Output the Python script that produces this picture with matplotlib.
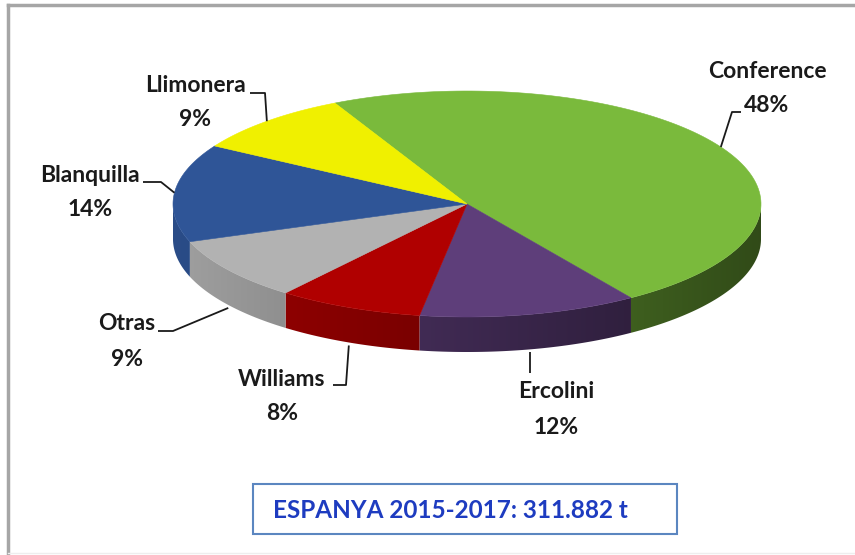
import numpy as np
import matplotlib
matplotlib.use("Agg")
import matplotlib.pyplot as plt
from matplotlib.patches import Polygon, Rectangle
from matplotlib.colors import to_rgb

# pear varieties, share of production (%)
varieties = ["Conference", "Ercolini", "Williams", "Otras", "Blanquilla", "Llimonera"]
shares = [48, 12, 8, 9, 14, 9]
colors = ["#7ABA3C", "#5E3E7A", "#B00000", "#B2B2B2", "#2F5597", "#F0F000"]
total_label = "ESPANYA 2015-2017: 311.882 t"

FONT = "Lato"

# pie geometry in pixel space
CX, CY = 467, 204
RA, RB = 294, 113
DEPTH = 35
START = 116.7

fig = plt.figure(figsize=(8.55, 5.55), dpi=100)
ax = fig.add_axes([0, 0, 1, 1])
ax.set_xlim(0, 855)
ax.set_ylim(555, 0)
ax.axis("off")


def pt(deg, drop=0.0):
    t = np.radians(deg)
    return CX + RA * np.cos(t), CY - RB * np.sin(t) + drop


def shade(c, deg):
    f = 0.9 - 0.5 * (np.cos(np.radians(deg)) + 1) / 2
    r, g, b = to_rgb(c)
    return (r * f, g * f, b * f)


frac = np.array(shares, dtype=float) / sum(shares)
ends = START - np.cumsum(frac) * 360
starts = np.concatenate([[START], ends[:-1]])

# side wall: only the front half (angles -180..0) is visible,
# filled with a horizontal gradient clipped to the wall outline
for c, a0, a1 in zip(colors, starts, ends):
    for shift in (0, 360, -360):
        l, h = max(a1 + shift, -180), min(a0 + shift, 0)
        if h <= l:
            continue
        arc = np.linspace(l, h, 200)
        top = [pt(a) for a in arc]
        bot = [pt(a, DEPTH) for a in arc[::-1]]
        wall = Polygon(top + bot, closed=True, facecolor="none",
                       edgecolor="none", zorder=2)
        ax.add_patch(wall)
        xs = np.array([p[0] for p in top])
        x0, x1 = xs.min() - 1, xs.max() + 1
        cols = np.linspace(x0, x1, 300)
        angs = -np.degrees(np.arccos(np.clip((cols - CX) / RA, -1, 1)))
        grad = np.array([shade(c, a) for a in angs])[None, :, :]
        ys = [p[1] for p in top + bot]
        im = ax.imshow(grad, extent=(x0, x1, max(ys) + 1, min(ys) - 1),
                       aspect="auto", zorder=2, interpolation="bilinear")
        im.set_clip_path(wall)

# top faces
for c, a0, a1 in zip(colors, starts, ends):
    arc = np.linspace(a0, a1, 120)
    xy = [(CX, CY)] + [pt(a) for a in arc]
    ax.add_patch(Polygon(xy, closed=True, facecolor=c, edgecolor=c,
                         lw=0.4, zorder=3))

ax.set_xlim(0, 855)
ax.set_ylim(555, 0)

# label text positions and leader elbows
label_pos = {
    "Conference": (767, 71),
    "Ercolini": (556, 392),
    "Williams": (282, 379),
    "Otras": (127, 324),
    "Blanquilla": (90, 175),
    "Llimonera": (195, 85),
}
elbows = {
    "Conference": [(732, 112), (741, 112)],
    "Ercolini": [],
    "Williams": [(346, 385), (333, 385)],
    "Otras": [(173, 331), (158, 331)],
    "Blanquilla": [(161, 182), (143, 182)],
    "Llimonera": [(265, 93), (250, 93)],
}

for name, val, a0, a1 in zip(varieties, shares, starts, ends):
    mid = (a0 + a1) / 2
    front = np.sin(np.radians(mid)) < 0
    ax_, ay_ = pt(mid, DEPTH + 3 if front else 0)
    if name == "Ercolini":
        path = [(ax_, ay_), (ax_, ay_ + 21)]
    else:
        path = [(ax_, ay_)] + elbows[name]
    xs, ys = zip(*path)
    ax.plot(xs, ys, color="#1a1a1a", lw=1.3, zorder=4, solid_capstyle="butt")
    tx, ty = label_pos[name]
    ax.text(tx, ty, name, ha="center", va="center", fontsize=16.5,
            fontweight="bold", family=FONT, color="#1a1a1a", zorder=5)
    ax.text(tx, ty + 35, f"{val}%", ha="center", va="center", fontsize=16.5,
            fontweight="bold", family=FONT, color="#1a1a1a", zorder=5)

# total box
ax.add_patch(Rectangle((253, 484), 424, 50, facecolor="white",
                       edgecolor="#5B86C0", lw=1.5, zorder=4))
ax.text(450, 510, total_label, ha="center", va="center", fontsize=17.5,
        fontweight="bold", family=FONT, color="#1E3CC0", zorder=5)

# chart area frame
ax.plot([8, 8], [555, 5], color="#A6A6A6", lw=2.5, zorder=1)
ax.plot([8, 855], [5, 5], color="#A6A6A6", lw=2.5, zorder=1)
ax.plot([8, 855], [553, 553], color="#EEEEEE", lw=1, zorder=1)

fig.savefig("out.png", dpi=100, facecolor="white")
